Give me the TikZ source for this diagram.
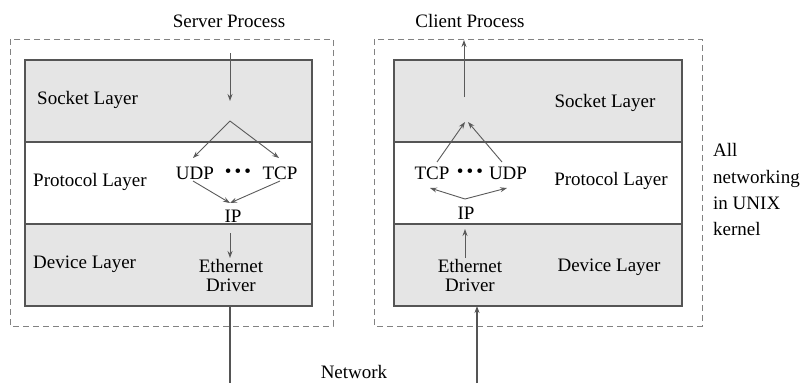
\documentclass[tikz,border=0pt]{standalone}
\usepackage{fontspec}
\setmainfont{Liberation Serif}
\usetikzlibrary{arrows.meta}
\definecolor{layerfill}{RGB}{229,229,229}
\definecolor{boxline}{RGB}{85,85,85}
\definecolor{arrline}{RGB}{90,90,90}
\definecolor{dashline}{RGB}{130,130,130}
\tikzset{
  txt/.style={inner sep=0pt, font=\fontsize{19}{19}\selectfont, text=black},
  layerbox/.style={draw=boxline, line width=1.1pt},
  grayfill/.style={fill=layerfill},
  kernelbox/.style={draw=dashline, line width=0.9pt, dash pattern=on 6pt off 4pt},
  arr/.style={draw=arrline, line width=0.9pt, -{Stealth[length=7pt,width=5pt,inset=2.5pt]}},
  netline/.style={draw=boxline, line width=1.2pt}
}
\begin{document}
\begin{tikzpicture}[x=1pt,y=-1pt]
\useasboundingbox (0,0) rectangle (803,383);
% kernel dashed boxes
\draw[kernelbox] (10,39) rectangle (333,326);
\draw[kernelbox] (374,39) rectangle (702,326);
% left layer stack
\fill[grayfill] (25,60) rectangle (312,142);
\fill[grayfill] (25,224) rectangle (312,306);
\draw[layerbox] (25,60) rectangle (312,306);
\draw[layerbox] (25,142) -- (312,142);
\draw[layerbox] (25,224) -- (312,224);
% right layer stack
\fill[grayfill] (394,60) rectangle (682,142);
\fill[grayfill] (394,224) rectangle (682,306);
\draw[layerbox] (394,60) rectangle (682,306);
\draw[layerbox] (394,142) -- (682,142);
\draw[layerbox] (394,224) -- (682,224);

% texts left
\node[txt] (srv) at (229,21) {Server Process};
\node[txt, anchor=west] (lsock) at (37,100) {Socket Layer};
\node[txt, anchor=west] (lprot) at (33,182) {Protocol Layer};
\node[txt, anchor=west] (ldev) at (33,264) {Device Layer};
\node[txt] (ludp) at (195,173) {UDP};
\node[txt] (ldots) at (238,173) {\textbullet\,\textbullet\,\textbullet};
\node[txt] (ltcp) at (280,173) {TCP};
\node[txt] (lip) at (233,216) {IP};
\node[txt, align=center] (leth) at (231,275) {Ethernet\\Driver};

% texts right
\node[txt] (cli) at (470,21) {Client Process};
\node[txt] (rsock) at (605,103) {Socket Layer};
\node[txt] (rprot) at (611,181) {Protocol Layer};
\node[txt] (rdev) at (609,267) {Device Layer};
\node[txt] (rtcp) at (432,173) {TCP};
\node[txt] (rdots) at (470,173) {\textbullet\,\textbullet\,\textbullet};
\node[txt] (rudp) at (508,173) {UDP};
\node[txt] (rip) at (466,213) {IP};
\node[txt, align=center] (reth) at (470,275) {Ethernet\\Driver};

\node[txt] (net) at (354,372) {Network};
\node[txt, anchor=west] (k1) at (713,150) {All};
\node[txt, anchor=west] (k2) at (713,179) {networking};
\node[txt, anchor=west] (k3) at (713,203) {in UNIX};
\node[txt, anchor=west] (k4) at (713,229) {kernel};

% left connectors
\coordinate (la1) at (230,53);
\coordinate (la2) at (230,101);
\draw[arr] (la1) -- (la2);
\coordinate (lapex) at (230,121);
\coordinate (ludpin) at (193,158);
\coordinate (ltcpin) at (279,158);
\draw[arr] (lapex) -- (ludpin);
\draw[arr] (lapex) -- (ltcpin);
\coordinate (ludpout) at (193,181);
\coordinate (ltcpout) at (280,181);
\coordinate (lipin) at (230,203);
\draw[arr] (ludpout) -- (lipin);
\draw[arr] (ltcpout) -- (lipin);
\coordinate (lipout) at (230,233);
\coordinate (lethin) at (230,258);
\draw[arr] (lipout) -- (lethin);
\coordinate (lnetbot) at (230,383);
\coordinate (lnettop) at (230,306);
\draw[netline] (lnettop) -- (lnetbot);

% right connectors
\coordinate (ra1) at (464,97);
\coordinate (ra2) at (464,40);
\draw[arr] (ra1) -- (ra2);
\coordinate (rtcpout) at (437,162);
\coordinate (rudpout) at (502,162);
\coordinate (rapexl) at (465,122);
\coordinate (rapexr) at (468,122);
\draw[arr] (rtcpout) -- (rapexl);
\draw[arr] (rudpout) -- (rapexr);
\coordinate (ripout) at (465,199);
\coordinate (rtcpin) at (430,188);
\coordinate (rudpin) at (507,188);
\draw[arr] (ripout) -- (rtcpin);
\draw[arr] (ripout) -- (rudpin);
\coordinate (rethout) at (465,258);
\coordinate (ripin) at (465,229);
\draw[arr] (rethout) -- (ripin);
\coordinate (rnetbot) at (477,383);
\coordinate (rnettop) at (477,306);
\draw[netline, -{Stealth[length=7pt,width=5pt,inset=2.5pt]}] (rnetbot) -- (rnettop);
\end{tikzpicture}
\end{document}
